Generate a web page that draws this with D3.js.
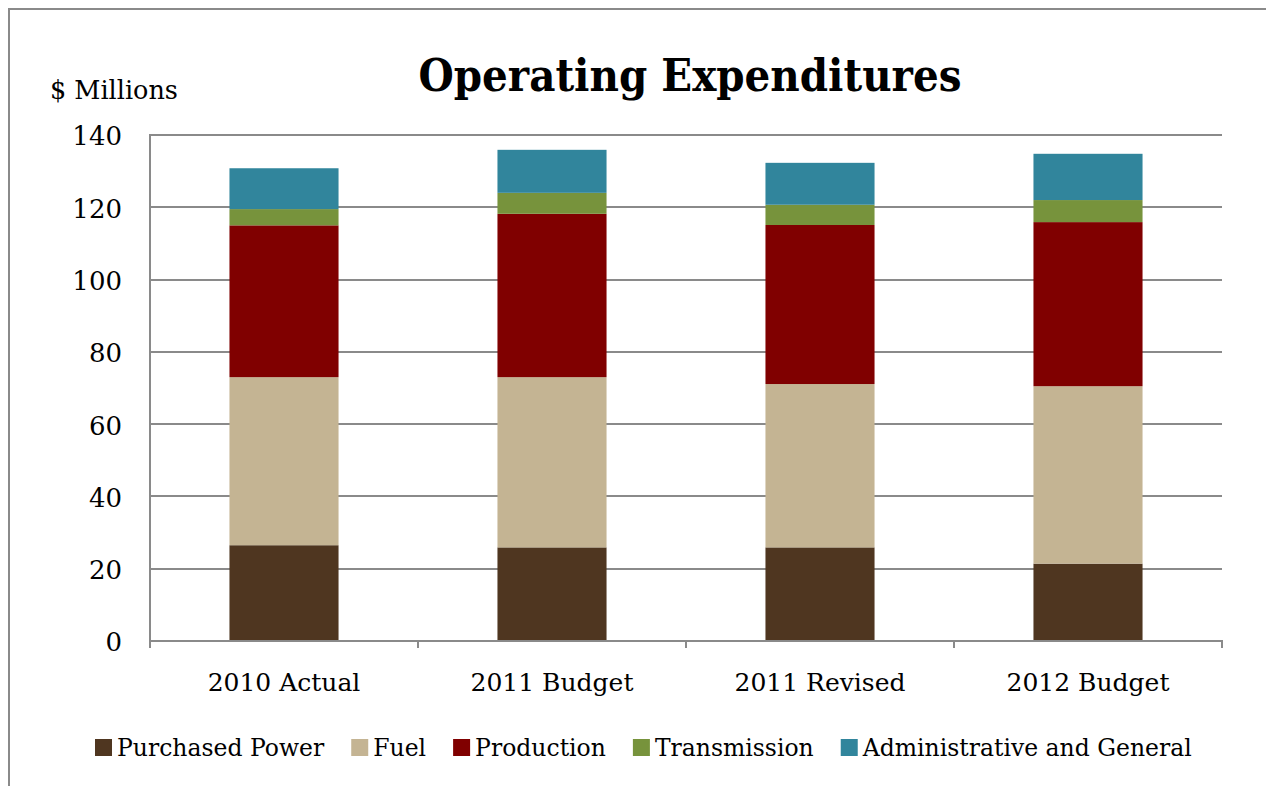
<!DOCTYPE html>
<html>
<head>
<meta charset="utf-8">
<script src="https://cdn.jsdelivr.net/npm/d3@7"></script>
<style>
  html, body { margin: 0; padding: 0; background: #fff; }
  svg { display: block; }
  text { font-family: "DejaVu Serif", "Liberation Serif", serif; fill: #000; }
</style>
</head>
<body>
<svg id="chart" width="1266" height="786"></svg>
<script>
// Operating expenditures by category, $ millions
const categories = ["2010 Actual", "2011 Budget", "2011 Revised", "2012 Budget"];
const seriesNames = ["Purchased Power", "Fuel", "Production", "Transmission", "Administrative and General"];
const seriesColors = ["#4F3620", "#C4B493", "#800000", "#77933C", "#31859C"];
const purchasedPower = [26.5, 25.9, 25.9, 21.4];
const fuel = [46.5, 47.1, 45.2, 49.1];
const production = [42.0, 45.2, 44.0, 45.4];
const transmission = [4.5, 5.8, 5.6, 6.1];
const adminGeneral = [11.3, 11.9, 11.6, 12.8];
const yTicks = [0, 20, 40, 60, 80, 100, 120, 140];

const seriesValues = [purchasedPower, fuel, production, transmission, adminGeneral];
const rows = categories.map((c, i) => {
  const r = { category: c };
  seriesNames.forEach((s, k) => { r[s] = seriesValues[k][i]; });
  return r;
});

const svg = d3.select("#chart");
const gridColor = "#8a8a8a";

// outer chart frame
svg.append("rect")
  .attr("x", 9).attr("y", 9)
  .attr("width", 1300).attr("height", 820)
  .attr("fill", "none").attr("stroke", "#8a8a8a").attr("stroke-width", 2);

const plot = { left: 150, right: 1222, top: 135, bottom: 641 };

const x = d3.scaleBand()
  .domain(categories)
  .range([plot.left, plot.right])
  .paddingInner(0.593)
  .paddingOuter(0.2965);

const y = d3.scaleLinear().domain([0, 140]).range([plot.bottom, plot.top]);

// horizontal gridlines
svg.append("g")
  .selectAll("line")
  .data(yTicks.filter(t => t > 0))
  .join("line")
  .attr("x1", plot.left).attr("x2", plot.right)
  .attr("y1", d => Math.round(y(d))).attr("y2", d => Math.round(y(d)))
  .attr("stroke", gridColor).attr("stroke-width", 2);

// y axis labels
const yAxis = d3.axisLeft(y).tickValues(yTicks).tickSize(0).tickPadding(28);
const gy = svg.append("g").attr("transform", `translate(${plot.left},0)`).call(yAxis);
gy.select(".domain").remove();
gy.selectAll("text")
  .attr("font-size", 26)
  .attr("font-family", "DejaVu Serif")
  .attr("dy", "0.38em");

// stacked bars
const stack = d3.stack().keys(seriesNames);
const layers = stack(rows);
svg.append("g")
  .selectAll("g")
  .data(layers)
  .join("g")
  .attr("fill", (d, i) => seriesColors[i])
  .selectAll("rect")
  .data(d => d)
  .join("rect")
  .attr("x", d => x(d.data.category))
  .attr("width", x.bandwidth())
  .attr("y", d => y(d[1]))
  .attr("height", d => y(d[0]) - y(d[1]));

// left axis line
svg.append("line")
  .attr("x1", plot.left).attr("x2", plot.left)
  .attr("y1", plot.top - 1).attr("y2", plot.bottom + 7)
  .attr("stroke", gridColor).attr("stroke-width", 2);

// bottom axis with category boundary ticks
const slot = (plot.right - plot.left) / categories.length;
const boundaries = d3.range(categories.length + 1).map(i => Math.round(plot.left + i * slot));
svg.append("line")
  .attr("x1", plot.left - 1).attr("x2", plot.right + 1)
  .attr("y1", plot.bottom).attr("y2", plot.bottom)
  .attr("stroke", gridColor).attr("stroke-width", 2);
svg.append("g")
  .selectAll("line")
  .data(boundaries)
  .join("line")
  .attr("x1", d => d).attr("x2", d => d)
  .attr("y1", plot.bottom).attr("y2", plot.bottom + 7)
  .attr("stroke", gridColor).attr("stroke-width", 2);

// category labels
svg.append("g")
  .selectAll("text")
  .data(categories)
  .join("text")
  .attr("x", d => x(d) + x.bandwidth() / 2)
  .attr("y", 691)
  .attr("text-anchor", "middle")
  .attr("font-size", 25)
  .text(d => d);

// title, sized to span its box
const title = svg.append("text")
  .attr("x", 690).attr("y", 91)
  .attr("text-anchor", "middle")
  .attr("font-weight", "bold")
  .attr("font-family", "DejaVu Serif Condensed, DejaVu Serif")
  .attr("font-stretch", "condensed")
  .attr("font-size", 48)
  .text("Operating Expenditures");
const tw = title.node().getComputedTextLength();
title.attr("font-size", 48 * 543 / tw);

// units label
svg.append("text")
  .attr("x", 50).attr("y", 99)
  .attr("font-size", 25.5)
  .text("$ Millions");

// legend
const legend = svg.append("g");
let lx = 95;
const ly = 756;
seriesNames.forEach((name, i) => {
  legend.append("rect")
    .attr("x", lx).attr("y", ly - 17)
    .attr("width", 17).attr("height", 17)
    .attr("fill", seriesColors[i]);
  const t = legend.append("text")
    .attr("x", lx + 22).attr("y", ly)
    .attr("font-size", 23.5)
    .text(name);
  lx += 22 + t.node().getComputedTextLength() + 27;
});
</script>
</body>
</html>
